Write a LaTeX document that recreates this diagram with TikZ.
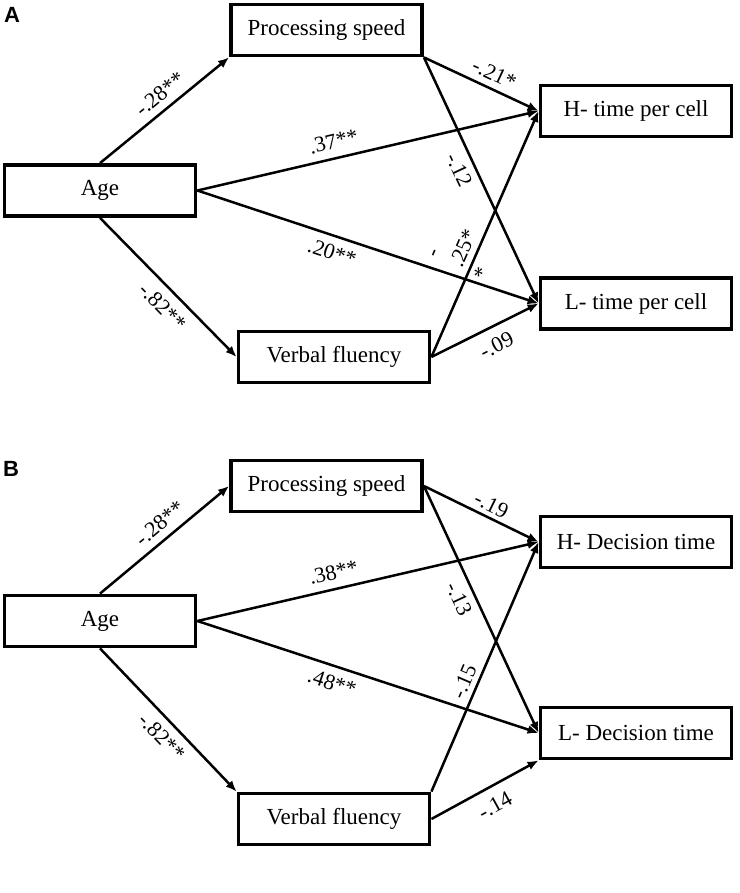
\documentclass[tikz,border=0pt]{standalone}
\usepackage{fontspec}
\setmainfont{Liberation Serif}
\newfontfamily\panelfont{Liberation Sans}
\usetikzlibrary{arrows.meta}

\tikzset{
    varbox/.style={draw, line width=3.8pt, minimum width=191pt, minimum height=51pt,
        inner sep=0pt, font=\fontsize{23}{23}\selectfont},
    path/.style={line width=2.5pt, -{Latex[length=11pt,width=9pt]}},
    coef/.style={sloped, inner sep=1pt, font=\fontsize{22}{22}\selectfont},
    panel/.style={font=\panelfont\bfseries\fontsize{22}{22}\selectfont}
}

\begin{document}
\begin{tikzpicture}[x=1pt, y=-1pt]

    % Fix the page to the size of the figure
    \useasboundingbox (0,0) rectangle (739,893);

    % ---------------- Panel A ----------------
    \node[panel] (labA) at (12, 15) {A};

    % Boxes of panel A
    \node[varbox] (psA)  at (326.5, 30)   {Processing speed};  % mediator 1
    \node[varbox] (ageA) at (100, 190.5)  {Age};               % predictor
    \node[varbox] (vfA)  at (334, 357)    {Verbal fluency};    % mediator 2
    \node[varbox] (hA)   at (636, 111)    {H- time per cell};  % outcome H
    \node[varbox] (lA)   at (636, 303.5)  {L- time per cell};  % outcome L

    % Paths from age
    \draw[path] (ageA.north) -- node[coef, pos=0.54, above=6pt] {-.28**} (psA.south west);
    \draw[path] (ageA.east) -- node[coef, pos=0.41, above=7pt] {.37**} (hA.west);
    \draw[path] (ageA.east) -- node[coef, pos=0.41, below=7pt] {.20**} (lA.west);
    \draw[path] (ageA.south) -- node[coef, pos=0.55, below=8pt] {-.82**} (vfA.west);

    % Paths from processing speed
    \draw[path] (psA.south east) -- node[coef, pos=0.56, above=5pt] {-.21*} (hA.west);
    \draw[path] (psA.south east) -- node[coef, pos=0.43, below=6pt] {-.12} (lA.west);

    % Paths from verbal fluency
    \draw[path] (vfA.east) -- node[coef, pos=0.42, above=5pt] {.25*}
                              node[coef, pos=0.36, above=32pt] {-}
                              node[coef, pos=0.36, below=3pt] {*} (hA.west);
    \draw[path] (vfA.east) -- node[coef, pos=0.53, below=9pt] {-.09} (lA.west);

    % ---------------- Panel B ----------------
    \node[panel] (labB) at (11, 469) {B};

    % Boxes of panel B
    \node[varbox] (psB)  at (326.5, 486) {Processing speed};   % mediator 1
    \node[varbox] (ageB) at (100, 621)   {Age};                % predictor
    \node[varbox] (vfB)  at (334, 819)   {Verbal fluency};     % mediator 2
    \node[varbox] (hB)   at (636, 542)   {H- Decision time};   % outcome H
    \node[varbox] (lB)   at (636, 733)   {L- Decision time};   % outcome L

    % Paths from age
    \draw[path] (ageB.north) -- node[coef, pos=0.54, above=6pt] {-.28**} (psB.west);
    \draw[path] (ageB.east) -- node[coef, pos=0.41, above=7pt] {.38**} (hB.west);
    \draw[path] (ageB.east) -- node[coef, pos=0.41, below=7pt] {.48**} (lB.west);
    \draw[path] (ageB.south) -- node[coef, pos=0.54, below=7pt] {-.82**} (vfB.north west);

    % Paths from processing speed
    \draw[path] (psB.east) -- node[coef, pos=0.54, above=3pt] {-.19} (hB.west);
    \draw[path] (psB.east) -- node[coef, pos=0.43, below=6pt] {-.13} (lB.west);

    % Paths from verbal fluency
    \draw[path] (vfB.north east) -- node[coef, pos=0.42, above=4pt] {-.15} (hB.west);
    \draw[path] (vfB.east) -- node[coef, pos=0.51, below=9pt] {-.14} (lB.south west);

\end{tikzpicture}
\end{document}
